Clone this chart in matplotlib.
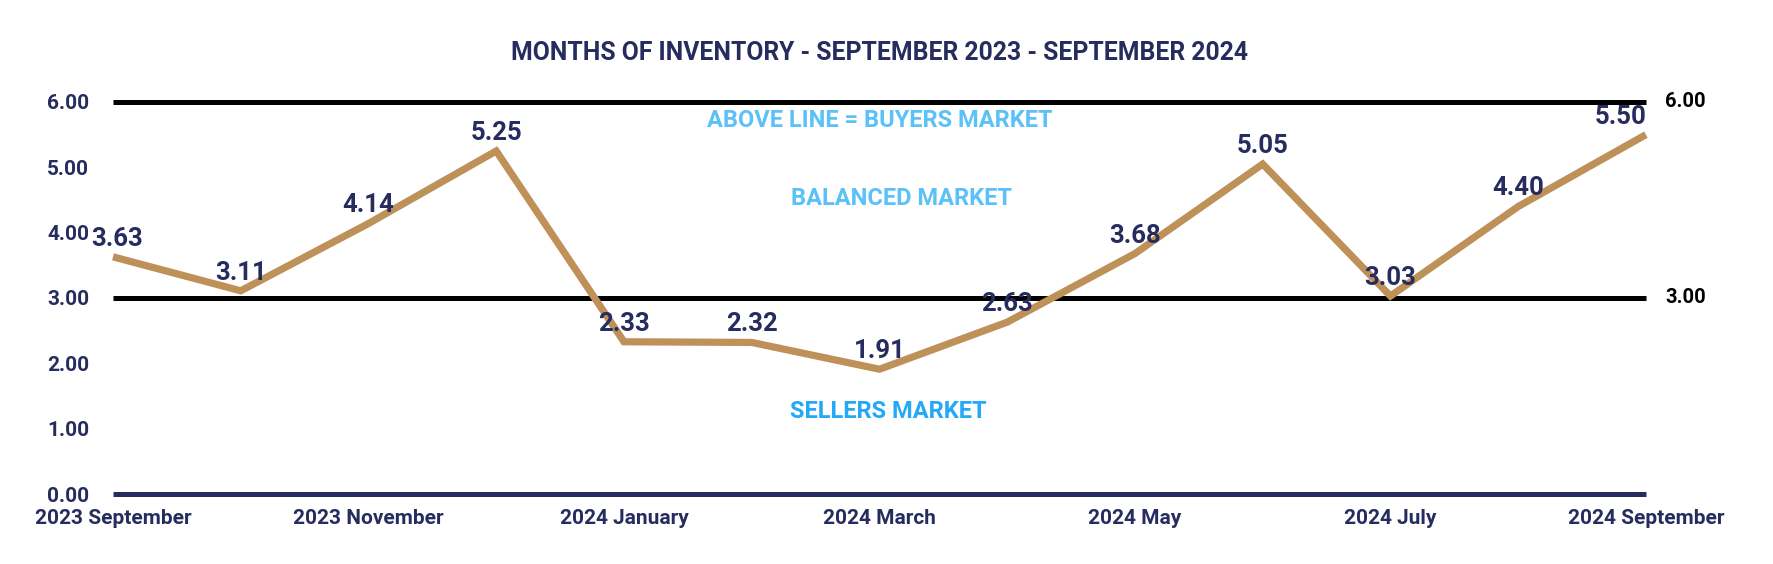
import matplotlib
matplotlib.use("Agg")
import matplotlib.pyplot as plt

months = ["2023 September", "2023 October", "2023 November", "2023 December",
          "2024 January", "2024 February", "2024 March", "2024 April",
          "2024 May", "2024 June", "2024 July", "2024 August", "2024 September"]
inventory = [3.63, 3.11, 4.14, 5.25, 2.33, 2.32, 1.91, 2.63, 3.68, 5.05, 3.03, 4.40, 5.50]
buyers_line = [6.00] * len(months)
sellers_line = [3.00] * len(months)
y_ticks = [0, 1, 2, 3, 4, 5, 6]

NAVY = "#262c5e"
TAN = "#be9159"
LIGHT_BLUE = "#5bc1f7"
BLUE = "#24a8f8"

plt.rcParams["font.family"] = ["Roboto", "DejaVu Sans"]
plt.rcParams["font.weight"] = "bold"

fig = plt.figure(figsize=(17.74, 5.64), dpi=100)
ax = fig.add_axes([0.0637, 0.1241, 0.8641, 0.7530])

x = list(range(len(months)))

ax.plot(x, buyers_line, color="black", lw=3.6, solid_capstyle="butt", clip_on=False, zorder=2)
ax.plot(x, sellers_line, color="black", lw=3.6, solid_capstyle="butt", clip_on=False, zorder=2)
ax.plot(x, inventory, color=TAN, lw=5.2, solid_joinstyle="miter", solid_capstyle="butt",
        clip_on=False, zorder=3)

for i, v in enumerate(inventory):
    dx = 3 if i == 0 else (-18 if i == len(inventory) - 1 else 0)
    ax.annotate(f"{v:.2f}", (x[i], v), xytext=(dx, 13), textcoords="offset points",
                ha="center", va="center", fontsize=18.5, color=NAVY,
                fontweight="bold", zorder=4)

for series in (buyers_line, sellers_line):
    ax.annotate(f"{series[-1]:.2f}", (x[-1], series[-1]), xytext=(14, 0),
                textcoords="offset points", ha="left", va="center",
                fontsize=14.5, color="black", fontweight="bold", annotation_clip=False)

ax.text(6.0, 5.71, "ABOVE LINE = BUYERS MARKET", ha="center", va="center",
        fontsize=17, color=LIGHT_BLUE, fontweight="bold")
ax.text(6.17, 4.52, "BALANCED MARKET", ha="center", va="center",
        fontsize=17, color=LIGHT_BLUE, fontweight="bold")
ax.text(6.07, 1.26, "SELLERS MARKET", ha="center", va="center",
        fontsize=17, color=BLUE, fontweight="bold")

ax.set_xlim(0, len(months) - 1)
ax.set_ylim(0, 6.5)
ax.set_yticks(y_ticks)
ax.set_yticklabels([f"{t:.2f}" for t in y_ticks], fontsize=15, color=NAVY, fontweight="bold")
ax.set_xticks(x[::2])
ax.set_xticklabels(months[::2], fontsize=15, color=NAVY, fontweight="bold")
ax.tick_params(axis="y", length=0, pad=17)
ax.tick_params(axis="x", length=0, pad=11)

for side in ("top", "right", "left"):
    ax.spines[side].set_visible(False)
ax.spines["bottom"].set_color(NAVY)
ax.spines["bottom"].set_linewidth(3.6)
ax.spines["bottom"].set_capstyle("butt")

fig.text(0.4955, 0.906, "MONTHS OF INVENTORY - SEPTEMBER 2023 - SEPTEMBER 2024",
         ha="center", va="center", fontsize=17.8, color=NAVY, fontweight="bold")

fig.savefig("out.png", dpi=100, facecolor="white")
